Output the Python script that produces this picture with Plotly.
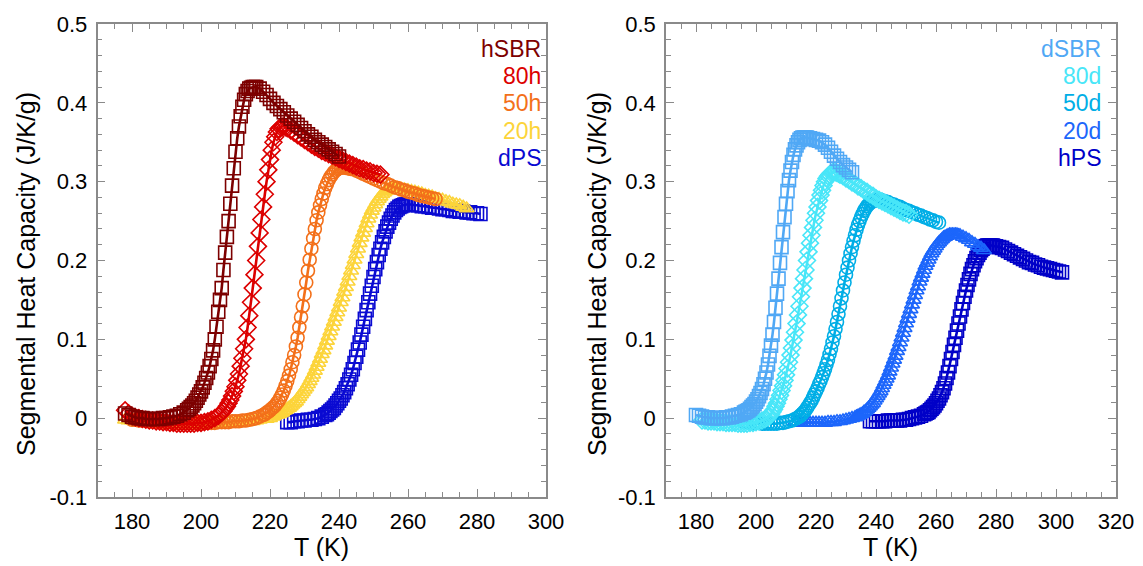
import plotly.graph_objects as go

# ---------------- data ----------------
# Each series: low-T baseline (1 K steps), transition (0.5 K steps), high-T tail (1 K steps)
# Left panel: hSBR / dPS blends
hSBR_T0 = (178, 196, 217)
hSBR_base = [0.006, 0.004, 0.002, 0.001, 0.0, 0.0, -0.001, -0.001, -0.001, -0.001,
             -0.001, 0.0, 0.0, 0.001, 0.002, 0.003, 0.005, 0.007]
hSBR_rise = [0.01, 0.012, 0.014, 0.016, 0.019, 0.022, 0.026, 0.03, 0.034, 0.039,
             0.045, 0.051, 0.058, 0.066, 0.075, 0.086, 0.1, 0.116, 0.135, 0.15,
             0.165, 0.188, 0.21, 0.23, 0.25, 0.272, 0.295, 0.317, 0.338, 0.355,
             0.37, 0.383, 0.395, 0.404, 0.411, 0.415, 0.418, 0.419, 0.42, 0.42, 0.42]
hSBR_tail = [0.418, 0.414, 0.41, 0.405, 0.4, 0.396, 0.392, 0.388, 0.384, 0.38,
             0.376, 0.372, 0.368, 0.364, 0.36, 0.357, 0.353, 0.35, 0.347, 0.344,
             0.341, 0.338, 0.335, 0.332]

h80_T0 = (178, 205, 226)
h80_base = [0.01, 0.006, 0.003, 0.001, 0.0, -0.001, -0.002, -0.003, -0.003, -0.004,
            -0.004, -0.005, -0.005, -0.006, -0.006, -0.007, -0.007, -0.007, -0.007, -0.007,
            -0.007, -0.006, -0.006, -0.005, -0.004, -0.002, 0.0]
h80_rise = [0.003, 0.005, 0.007, 0.009, 0.012, 0.015, 0.019, 0.023, 0.028, 0.034,
            0.04, 0.048, 0.056, 0.066, 0.076, 0.088, 0.1, 0.115, 0.13, 0.147,
            0.165, 0.182, 0.2, 0.218, 0.235, 0.252, 0.268, 0.284, 0.3, 0.315,
            0.328, 0.34, 0.35, 0.357, 0.363, 0.367, 0.369, 0.37, 0.37, 0.369, 0.368]
h80_tail = [0.365, 0.362, 0.359, 0.356, 0.353, 0.35, 0.347, 0.344, 0.342, 0.339,
            0.337, 0.335, 0.333, 0.331, 0.329, 0.327, 0.325, 0.323, 0.321, 0.319,
            0.317, 0.316, 0.314, 0.313, 0.311, 0.31, 0.309]

h50_T0 = (180, 218, 245)
h50_base = [-0.002, -0.002, -0.003, -0.003, -0.003, -0.004, -0.004, -0.004, -0.005, -0.005,
            -0.005, -0.005, -0.006, -0.006, -0.006, -0.006, -0.006, -0.006, -0.006, -0.006,
            -0.006, -0.006, -0.006, -0.006, -0.006, -0.005, -0.005, -0.005, -0.005, -0.004,
            -0.004, -0.004, -0.003, -0.003, -0.002, -0.001, 0.0, 0.002]
h50_rise = [0.004, 0.005, 0.007, 0.008, 0.01, 0.012, 0.014, 0.016, 0.019,
            0.022, 0.026, 0.03, 0.035, 0.041, 0.047, 0.054, 0.062, 0.071, 0.08,
            0.091, 0.102, 0.115, 0.128, 0.142, 0.157, 0.172, 0.187, 0.201, 0.215,
            0.228, 0.24, 0.251, 0.261, 0.27, 0.278, 0.285, 0.292, 0.297, 0.302,
            0.306, 0.309, 0.312, 0.314, 0.316, 0.317, 0.318, 0.318, 0.318, 0.318,
            0.317, 0.317, 0.316, 0.316]
h50_tail = [0.314, 0.312, 0.31, 0.308, 0.306, 0.304, 0.302, 0.3, 0.298, 0.297,
            0.295, 0.293, 0.292, 0.29, 0.289, 0.287, 0.286, 0.285, 0.283, 0.282,
            0.281, 0.28, 0.279, 0.278]

h20_T0 = (178, 222, 259)
h20_base = [-0.002, -0.003, -0.003, -0.004, -0.004, -0.004, -0.005, -0.005, -0.005, -0.005,
            -0.006, -0.006, -0.006, -0.006, -0.006, -0.006, -0.007, -0.007, -0.007, -0.007,
            -0.007, -0.007, -0.007, -0.007, -0.007, -0.007, -0.007, -0.007, -0.007, -0.007,
            -0.006, -0.006, -0.006, -0.006, -0.005, -0.005, -0.004, -0.004, -0.003, -0.002,
            -0.001, -0.001, 0.0, 0.002]
h20_rise = [0.004, 0.005, 0.006, 0.007, 0.009, 0.01, 0.012, 0.013, 0.015, 0.017,
            0.019, 0.021, 0.024, 0.027, 0.03, 0.033, 0.036, 0.039, 0.043, 0.047,
            0.051, 0.055, 0.06, 0.065, 0.07, 0.075, 0.081, 0.086, 0.092, 0.098,
            0.104, 0.11, 0.116, 0.122, 0.128, 0.134, 0.14, 0.147, 0.153, 0.16,
            0.166, 0.173, 0.18, 0.187, 0.194, 0.201, 0.208, 0.215, 0.222, 0.229,
            0.235, 0.241, 0.247, 0.253, 0.258, 0.263, 0.267, 0.271, 0.275, 0.278,
            0.281, 0.284, 0.286, 0.288, 0.289, 0.29, 0.291, 0.292, 0.292, 0.292,
            0.292, 0.291, 0.291]
h20_tail = [0.29, 0.289, 0.288, 0.287, 0.286, 0.285, 0.283, 0.282, 0.281, 0.279,
            0.278, 0.277, 0.275, 0.274, 0.272, 0.271, 0.27, 0.268, 0.266]

dPS_T0 = (225, 236, 261)
dPS_base = [-0.005, -0.005, -0.004, -0.004, -0.003, -0.003, -0.002, -0.002, -0.001, 0.0, 0.002]
dPS_rise = [0.004, 0.005, 0.007, 0.009, 0.011, 0.013, 0.016, 0.019, 0.022, 0.025,
            0.029, 0.033, 0.038, 0.043, 0.049, 0.055, 0.062, 0.07, 0.078, 0.087,
            0.096, 0.106, 0.116, 0.126, 0.137, 0.147, 0.158, 0.168, 0.179, 0.189,
            0.198, 0.207, 0.215, 0.223, 0.23, 0.237, 0.243, 0.248, 0.253, 0.257,
            0.261, 0.264, 0.266, 0.268, 0.269, 0.27, 0.271, 0.271, 0.271]
dPS_tail = [0.271, 0.27, 0.27, 0.269, 0.269, 0.268, 0.267, 0.267, 0.266, 0.265,
            0.265, 0.264, 0.263, 0.263, 0.262, 0.262, 0.261, 0.261, 0.26, 0.26, 0.259]

# Right panel: dSBR / hPS blends
dSBR_T0 = (180, 196, 219)
dSBR_base = [0.004, 0.003, 0.002, 0.001, 0.001, 0.0, 0.0, 0.0, 0.0, 0.0,
             0.001, 0.001, 0.002, 0.003, 0.004, 0.005]
dSBR_rise = [0.007, 0.008, 0.009, 0.01, 0.012, 0.014, 0.016, 0.018, 0.021, 0.024,
             0.028, 0.032, 0.037, 0.043, 0.05, 0.058, 0.068, 0.079, 0.092, 0.106,
             0.122, 0.14, 0.158, 0.177, 0.197, 0.217, 0.236, 0.255, 0.272, 0.288,
             0.302, 0.314, 0.325, 0.334, 0.341, 0.346, 0.35, 0.353, 0.355, 0.356,
             0.356, 0.356, 0.356, 0.355, 0.355]
dSBR_tail = [0.354, 0.353, 0.352, 0.35, 0.347, 0.343, 0.338, 0.333, 0.329, 0.325,
             0.321, 0.318, 0.315, 0.312]

d80_T0 = (182, 204, 229)
d80_base = [-0.003, -0.003, -0.004, -0.004, -0.004, -0.005, -0.005, -0.005, -0.006, -0.006,
            -0.006, -0.006, -0.007, -0.007, -0.007, -0.007, -0.006, -0.006, -0.005, -0.004,
            -0.003, -0.001]
d80_rise = [0.001, 0.003, 0.005, 0.008, 0.011, 0.015, 0.019, 0.024, 0.029, 0.035,
            0.041, 0.048, 0.055, 0.063, 0.071, 0.08, 0.089, 0.099, 0.109, 0.12,
            0.131, 0.142, 0.154, 0.165, 0.177, 0.188, 0.2, 0.211, 0.222, 0.232,
            0.242, 0.251, 0.26, 0.268, 0.276, 0.283, 0.289, 0.295, 0.3, 0.304,
            0.307, 0.309, 0.311, 0.312, 0.312, 0.312, 0.311, 0.31, 0.309]
d80_tail = [0.307, 0.304, 0.302, 0.299, 0.297, 0.294, 0.292, 0.289, 0.287, 0.284,
            0.282, 0.279, 0.277, 0.275, 0.273, 0.271, 0.269, 0.267, 0.265, 0.263,
            0.261, 0.26, 0.258]

d50_T0 = (196, 214, 243)
d50_base = [-0.005, -0.005, -0.006, -0.006, -0.006, -0.006, -0.007, -0.007, -0.007, -0.007,
            -0.007, -0.007, -0.006, -0.006, -0.005, -0.004, -0.003, -0.001]
d50_rise = [0.001, 0.002, 0.004, 0.006, 0.008, 0.01, 0.013, 0.016, 0.019, 0.022,
            0.026, 0.03, 0.034, 0.038, 0.043, 0.047, 0.052, 0.057, 0.062, 0.068,
            0.074, 0.081, 0.088, 0.096, 0.104, 0.113, 0.122, 0.132, 0.142, 0.152,
            0.162, 0.172, 0.182, 0.191, 0.2, 0.209, 0.217, 0.225, 0.232, 0.239,
            0.245, 0.25, 0.255, 0.259, 0.263, 0.266, 0.269, 0.271, 0.273, 0.274,
            0.275, 0.276, 0.277, 0.277, 0.277, 0.277, 0.276]
d50_tail = [0.275, 0.274, 0.272, 0.271, 0.269, 0.268, 0.266, 0.264, 0.263, 0.261,
            0.26, 0.258, 0.257, 0.255, 0.254, 0.252, 0.251, 0.249, 0.248]

d20_T0 = (213, 233, 269)
d20_base = [-0.005, -0.005, -0.006, -0.006, -0.006, -0.006, -0.006, -0.006, -0.006, -0.006,
            -0.006, -0.005, -0.005, -0.005, -0.004, -0.004, -0.003, -0.002, -0.001, 0.0]
d20_rise = [0.001, 0.002, 0.003, 0.004, 0.005, 0.006, 0.008, 0.009, 0.011, 0.013,
            0.015, 0.017, 0.019, 0.022, 0.025, 0.028, 0.031, 0.034, 0.038, 0.042,
            0.046, 0.05, 0.054, 0.059, 0.064, 0.069, 0.074, 0.079, 0.085, 0.09,
            0.096, 0.102, 0.108, 0.114, 0.12, 0.126, 0.132, 0.138, 0.144, 0.15,
            0.156, 0.162, 0.167, 0.173, 0.178, 0.183, 0.188, 0.193, 0.197, 0.201,
            0.205, 0.209, 0.212, 0.215, 0.218, 0.221, 0.223, 0.225, 0.227, 0.229,
            0.23, 0.231, 0.232, 0.233, 0.233, 0.233, 0.233, 0.233, 0.233, 0.232, 0.232]
d20_tail = [0.23, 0.228, 0.226, 0.223, 0.221, 0.218, 0.216, 0.213]

hPS_T0 = (238, 256, 281)
hPS_base = [-0.004, -0.004, -0.004, -0.004, -0.004, -0.004, -0.003, -0.003, -0.003, -0.003,
            -0.003, -0.002, -0.002, -0.001, 0.0, 0.001, 0.002, 0.003]
hPS_rise = [0.005, 0.006, 0.007, 0.008, 0.01, 0.012, 0.014, 0.016, 0.019, 0.022,
            0.025, 0.029, 0.033, 0.038, 0.044, 0.051, 0.058, 0.066, 0.075, 0.084,
            0.093, 0.102, 0.111, 0.12, 0.129, 0.138, 0.146, 0.154, 0.162, 0.169,
            0.176, 0.183, 0.189, 0.194, 0.199, 0.203, 0.207, 0.21, 0.213, 0.215,
            0.217, 0.218, 0.219, 0.219, 0.219, 0.219, 0.219, 0.218, 0.218]
hPS_tail = [0.217, 0.216, 0.214, 0.212, 0.21, 0.208, 0.206, 0.204, 0.202, 0.2,
            0.198, 0.197, 0.195, 0.194, 0.192, 0.191, 0.19, 0.189, 0.188, 0.187,
            0.186, 0.185]

x_ticks_left = [180, 200, 220, 240, 260, 280, 300]
x_ticks_right = [180, 200, 220, 240, 260, 280, 300, 320]
y_ticks = [-0.1, 0, 0.1, 0.2, 0.3, 0.4, 0.5]
y_ticklabels = ["-0.1", "0", "0.1", "0.2", "0.3", "0.4", "0.5"]


def series_xy(t0s, base, rise, tail):
    tb, tr, tt = t0s
    T = [tb + i for i in range(len(base))]
    T += [tr + 0.5 * i for i in range(len(rise))]
    T += [tt + i for i in range(len(tail))]
    return T, base + rise + tail


# ---------------- styling ----------------
FONT = "Helvetica, Arial, 'Liberation Sans', sans-serif"
W, H = 1143, 566
AXC = "#8a8a8a"

left_series = [  # drawn bottom -> top
    ("dPS", series_xy(dPS_T0, dPS_base, dPS_rise, dPS_tail), "#0a0ad2", "square-open"),
    ("20h", series_xy(h20_T0, h20_base, h20_rise, h20_tail), "#fcd43a", "triangle-up-open"),
    ("50h", series_xy(h50_T0, h50_base, h50_rise, h50_tail), "#f3701a", "circle-open"),
    ("80h", series_xy(h80_T0, h80_base, h80_rise, h80_tail), "#dc0000", "diamond-open"),
    ("hSBR", series_xy(hSBR_T0, hSBR_base, hSBR_rise, hSBR_tail), "#7d0000", "square-open"),
]
right_series = [
    ("hPS", series_xy(hPS_T0, hPS_base, hPS_rise, hPS_tail), "#0000c8", "square-open"),
    ("20d", series_xy(d20_T0, d20_base, d20_rise, d20_tail), "#1c66fb", "triangle-up-open"),
    ("50d", series_xy(d50_T0, d50_base, d50_rise, d50_tail), "#00aee6", "circle-open"),
    ("80d", series_xy(d80_T0, d80_base, d80_rise, d80_tail), "#48e6f8", "diamond-open"),
    ("dSBR", series_xy(dSBR_T0, dSBR_base, dSBR_rise, dSBR_tail), "#50a8f5", "square-open"),
]
left_legend = ["hSBR", "80h", "50h", "20h", "dPS"]
right_legend = ["dSBR", "80d", "50d", "20d", "hPS"]

fig = go.Figure()


def add(series, xa, ya):
    for name, (T, vals), col, sym in series:
        fig.add_trace(go.Scatter(
            x=T, y=vals, mode="lines+markers", name=name, xaxis=xa, yaxis=ya,
            line=dict(color=col, width=2.6),
            marker=dict(symbol=sym, size=13, color=col, line=dict(color=col, width=1.6)),
            showlegend=False, cliponaxis=True))


add(left_series, "x", "y")
add(right_series, "x2", "y2")

# plot areas in pixels
Lx0, Lx1 = 97.5, 546.0
Rx0, Rx1 = 666.0, 1116.0
Yt, Yb = 24.0, 497.0


def px(x):
    return x / W


def py(y):
    return 1 - y / H


common_axis = dict(
    showline=True, linecolor=AXC, linewidth=1.5, mirror="allticks",
    ticks="inside", ticklen=8, tickwidth=1.2, tickcolor=AXC,
    showgrid=False, zeroline=False, automargin=False,
    tickfont=dict(family=FONT, size=22, color="black"),
)
minor_x = dict(dtick=5, tick0=170, ticks="inside", ticklen=5, tickcolor=AXC, tickwidth=1)
minor_y = dict(dtick=0.02, tick0=0, ticks="inside", ticklen=5, tickcolor=AXC, tickwidth=1)

fig.update_layout(
    width=W, height=H, template="none",
    paper_bgcolor="white", plot_bgcolor="white",
    margin=dict(l=0, r=0, t=0, b=0),
    showlegend=False,
    xaxis=dict(domain=[px(Lx0), px(Lx1)], range=[170, 300], anchor="y",
               tickvals=x_ticks_left, minor=minor_x, ticklabelstandoff=4, **common_axis),
    yaxis=dict(domain=[py(Yb), py(Yt)], range=[-0.1, 0.5], anchor="x",
               tickvals=y_ticks, ticktext=y_ticklabels, minor=minor_y,
               ticklabelstandoff=4, **common_axis),
    xaxis2=dict(domain=[px(Rx0), px(Rx1)], range=[170, 320], anchor="y2",
                tickvals=x_ticks_right, minor=minor_x, ticklabelstandoff=4, **common_axis),
    yaxis2=dict(domain=[py(Yb), py(Yt)], range=[-0.1, 0.5], anchor="x2",
                tickvals=y_ticks, ticktext=y_ticklabels, minor=minor_y,
                ticklabelstandoff=4, **common_axis),
)

ann = []
title_font = dict(family=FONT, size=25, color="black")
for cx in [(Lx0 + Lx1) / 2, (Rx0 + Rx1) / 2]:
    ann.append(dict(text="T (K)", x=px(cx), y=py(547), xref="paper", yref="paper",
                    showarrow=False, xanchor="center", yanchor="middle", font=title_font))
for cx in [26, 597]:
    ann.append(dict(text="Segmental Heat Capacity (J/K/g)", x=px(cx), y=py(274),
                    xref="paper", yref="paper", textangle=-90, showarrow=False,
                    xanchor="center", yanchor="middle", font=title_font))

colors_left = {s[0]: s[2] for s in left_series}
colors_right = {s[0]: s[2] for s in right_series}
for i, name in enumerate(left_legend):
    ann.append(dict(text=name, x=px(543), y=py(49 + 27.2 * i), xref="paper", yref="paper",
                    showarrow=False, xanchor="right", yanchor="middle",
                    font=dict(family=FONT, size=23, color=colors_left[name])))
for i, name in enumerate(right_legend):
    ann.append(dict(text=name, x=px(1103), y=py(49 + 27.2 * i), xref="paper", yref="paper",
                    showarrow=False, xanchor="right", yanchor="middle",
                    font=dict(family=FONT, size=23, color=colors_right[name])))
fig.update_layout(annotations=ann)

# remove the browser's default 8px body margin so the figure fills the window exactly
fig.write_html("out.html", config={"displayModeBar": False},
               post_script="document.body.style.margin='0px';document.body.style.overflow='hidden';")
